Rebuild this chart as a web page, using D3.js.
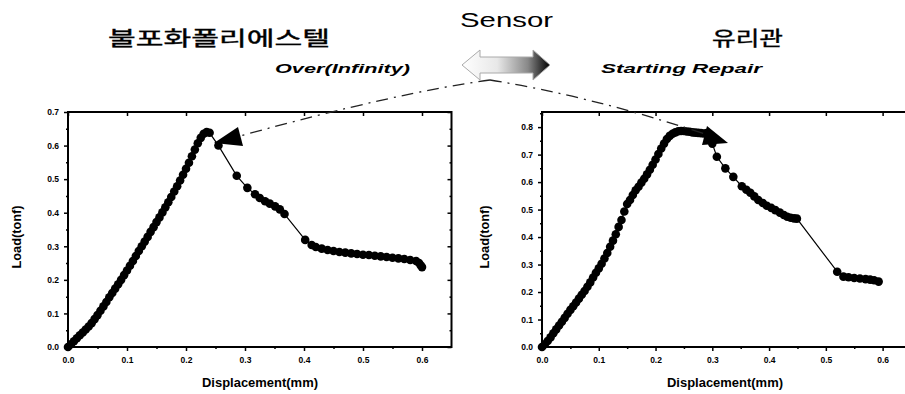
<!DOCTYPE html>
<html>
<head>
<meta charset="utf-8">
<script src="https://cdn.jsdelivr.net/npm/d3@7"></script>
<style>
  body { margin: 0; background: #fff; }
  svg { display: block; }
  .tick text { font-family: "Liberation Sans", Arial, sans-serif; font-weight: bold; font-size: 8.5px; }
</style>
</head>
<body>
<div id="chart"></div>
<script>
// left panel: 불포화폴리에스텔
const leftX = [0.000, 0.005, 0.010, 0.015, 0.020, 0.025, 0.030, 0.035, 0.040, 0.045, 0.050, 0.055, 0.060, 0.065,
  0.070, 0.075, 0.080, 0.085, 0.090, 0.095, 0.100, 0.105, 0.110, 0.115, 0.120, 0.125, 0.130, 0.135, 0.140,
  0.145, 0.150, 0.155, 0.160, 0.165, 0.170, 0.175, 0.180, 0.185, 0.190, 0.195, 0.200, 0.205, 0.210, 0.215,
  0.220, 0.225, 0.230, 0.235, 0.240,
  0.255, 0.286, 0.304, 0.317, 0.325, 0.334, 0.342, 0.351, 0.359, 0.367, 0.402, 0.413,
  0.420, 0.430, 0.440, 0.450, 0.460, 0.470, 0.480, 0.490, 0.500, 0.510, 0.520, 0.530, 0.540, 0.550, 0.560,
  0.570, 0.580, 0.590, 0.595, 0.598, 0.600];
const leftY = [0.000, 0.008, 0.017, 0.026, 0.035, 0.043, 0.052, 0.061, 0.071, 0.083, 0.095, 0.108, 0.121, 0.134,
  0.148, 0.161, 0.174, 0.187, 0.200, 0.214, 0.228, 0.242, 0.256, 0.271, 0.286, 0.300, 0.314, 0.328, 0.343,
  0.357, 0.372, 0.386, 0.401, 0.416, 0.431, 0.447, 0.463, 0.479, 0.496, 0.513, 0.531, 0.549, 0.568, 0.588,
  0.607, 0.623, 0.635, 0.640, 0.638,
  0.600, 0.510, 0.474, 0.455, 0.444, 0.434, 0.427, 0.419, 0.410, 0.396, 0.319, 0.304,
  0.298, 0.293, 0.289, 0.286, 0.283, 0.281, 0.279, 0.277, 0.275, 0.274, 0.272, 0.270, 0.268, 0.266, 0.264,
  0.262, 0.259, 0.256, 0.250, 0.243, 0.238];

// right panel: 유리관
const rightX = [0.000, 0.005, 0.010, 0.015, 0.020, 0.025, 0.030, 0.035, 0.040, 0.045, 0.050, 0.055, 0.060, 0.065,
  0.070, 0.075, 0.080, 0.085, 0.090, 0.095, 0.100, 0.105, 0.110, 0.115, 0.120, 0.125, 0.130, 0.135, 0.140,
  0.145, 0.150, 0.155, 0.160, 0.165, 0.170, 0.175, 0.180, 0.185, 0.190, 0.195, 0.200, 0.205, 0.210, 0.215,
  0.220, 0.225, 0.230, 0.235, 0.240, 0.245, 0.250, 0.255, 0.260, 0.265, 0.270, 0.275, 0.280, 0.285, 0.290,
  0.295, 0.300,
  0.308, 0.323, 0.337, 0.352, 0.360, 0.367, 0.374, 0.381, 0.389, 0.396, 0.404, 0.411, 0.419, 0.426, 0.432,
  0.438, 0.444, 0.449,
  0.520, 0.531, 0.540, 0.550, 0.560, 0.570, 0.578, 0.585, 0.593];
const rightY = [0.000, 0.010, 0.022, 0.035, 0.050, 0.064, 0.078, 0.092, 0.106, 0.121, 0.135, 0.148, 0.162, 0.176,
  0.190, 0.204, 0.219, 0.235, 0.253, 0.270, 0.286, 0.303, 0.322, 0.342, 0.365, 0.387, 0.410, 0.437, 0.462,
  0.493, 0.520, 0.535, 0.553, 0.570, 0.583, 0.598, 0.612, 0.628, 0.645, 0.663, 0.682, 0.702, 0.722, 0.740,
  0.757, 0.768, 0.776, 0.781, 0.785, 0.786, 0.786, 0.784, 0.783, 0.781, 0.780, 0.779, 0.778, 0.777, 0.778,
  0.770, 0.740,
  0.692, 0.650, 0.619, 0.585, 0.572, 0.561, 0.548, 0.535, 0.524, 0.514, 0.506, 0.498, 0.489, 0.480, 0.474,
  0.470, 0.468, 0.467,
  0.274, 0.256, 0.254, 0.251, 0.249, 0.247, 0.245, 0.243, 0.238];

const xTicks = [0, 0.1, 0.2, 0.3, 0.4, 0.5, 0.6];
const leftYTicks = [0, 0.1, 0.2, 0.3, 0.4, 0.5, 0.6, 0.7];
const rightYTicks = [0, 0.1, 0.2, 0.3, 0.4, 0.5, 0.6, 0.7, 0.8];

const width = 905, height = 394;

const svg = d3.select('#chart').append('svg')
  .attr('width', width)
  .attr('height', height);

const defs = svg.append('defs');
const grad = defs.append('linearGradient').attr('id', 'arrowGrad')
  .attr('x1', '0%').attr('x2', '100%').attr('y1', '0%').attr('y2', '0%');
grad.append('stop').attr('offset', '0%').attr('stop-color', '#fff');
grad.append('stop').attr('offset', '40%').attr('stop-color', '#e8e8e8');
grad.append('stop').attr('offset', '75%').attr('stop-color', '#888');
grad.append('stop').attr('offset', '100%').attr('stop-color', '#000');

function drawPanel(cfg) {
  const x = d3.scaleLinear().domain([0, 0.65]).range(cfg.xRange);
  const y = d3.scaleLinear().domain([0, cfg.yMax]).range([347, 112]);
  const g = svg.append('g');

  const minorX = d3.range(0.05, 0.65, 0.1);
  const minorY = d3.range(0.05, cfg.yMax, 0.1);

  // frame
  g.append('rect')
    .attr('x', x(0)).attr('y', y(cfg.yMax))
    .attr('width', x(0.65) - x(0)).attr('height', y(0) - y(cfg.yMax))
    .attr('fill', 'none').attr('stroke', '#000').attr('stroke-width', 2);

  const fmt = d3.format('.1f');

  // bottom axis
  g.append('g').attr('transform', `translate(0,${y(0)})`)
    .call(d3.axisBottom(x).tickValues(xTicks).tickSize(4).tickPadding(6).tickFormat(fmt))
    .call(s => s.select('.domain').remove());
  g.append('g').attr('transform', `translate(0,${y(0)})`)
    .call(d3.axisBottom(x).tickValues(minorX).tickSize(2).tickFormat(''))
    .call(s => s.select('.domain').remove());
  // top axis (inward)
  g.append('g').attr('transform', `translate(0,${y(cfg.yMax)})`)
    .call(d3.axisBottom(x).tickValues(xTicks).tickSize(4).tickFormat(''))
    .call(s => s.select('.domain').remove());
  // left axis
  g.append('g').attr('transform', `translate(${x(0)},0)`)
    .call(d3.axisLeft(y).tickValues(cfg.yTicks).tickSize(4).tickPadding(5).tickFormat(fmt))
    .call(s => s.select('.domain').remove());
  g.append('g').attr('transform', `translate(${x(0)},0)`)
    .call(d3.axisLeft(y).tickValues(minorY).tickSize(2).tickFormat(''))
    .call(s => s.select('.domain').remove());
  // right axis (inward)
  g.append('g').attr('transform', `translate(${x(0.65)},0)`)
    .call(d3.axisLeft(y).tickValues(cfg.yTicks).tickSize(4).tickFormat(''))
    .call(s => s.select('.domain').remove());
  g.append('g').attr('transform', `translate(${x(0.65)},0)`)
    .call(d3.axisLeft(y).tickValues(minorY).tickSize(2).tickFormat(''))
    .call(s => s.select('.domain').remove());

  g.selectAll('.tick line').attr('stroke-width', 1.5);

  // axis titles
  g.append('text')
    .attr('x', cfg.xTitleX).attr('y', 387)
    .attr('text-anchor', 'middle')
    .attr('font-family', 'Liberation Sans, Arial, sans-serif')
    .attr('font-size', 12.5).attr('font-weight', 'bold')
    .attr('textLength', 116).attr('lengthAdjust', 'spacingAndGlyphs')
    .text('Displacement(mm)');
  g.append('text')
    .attr('transform', `translate(${cfg.yTitleX},237) rotate(-90)`)
    .attr('text-anchor', 'middle')
    .attr('font-family', 'Liberation Sans, Arial, sans-serif')
    .attr('font-size', 12.5).attr('font-weight', 'bold')
    .attr('textLength', 63).attr('lengthAdjust', 'spacingAndGlyphs')
    .text('Load(tonf)');

  const pts = cfg.xs.map((d, i) => [d, cfg.ys[i]]);

  g.append('path')
    .datum(pts)
    .attr('fill', 'none').attr('stroke', '#000').attr('stroke-width', 1.2)
    .attr('d', d3.line().x(d => x(d[0])).y(d => y(d[1])));

  g.selectAll('circle')
    .data(pts)
    .enter()
    .append('circle')
    .attr('cx', d => x(d[0]))
    .attr('cy', d => y(d[1]))
    .attr('r', 4.3)
    .attr('fill', '#000');
}

drawPanel({xs: leftX, ys: leftY, yMax: 0.7, yTicks: leftYTicks, xRange: [68, 451.5], xTitleX: 260, yTitleX: 21});
drawPanel({xs: rightX, ys: rightY, yMax: 0.855, yTicks: rightYTicks, xRange: [542, 911], xTitleX: 725, yTitleX: 489});

// titles
svg.append('text')
  .attr('x', 460).attr('y', 27)
  .attr('font-family', 'Liberation Sans, Arial, sans-serif')
  .attr('font-size', 21)
  .attr('textLength', 93).attr('lengthAdjust', 'spacingAndGlyphs')
  .text('Sensor');
svg.append('text')
  .attr('x', 108).attr('y', 46)
  .attr('font-family', 'Noto Sans CJK KR, sans-serif')
  .attr('font-size', 20).attr('stroke', '#000').attr('stroke-width', 0.4)
  .attr('textLength', 222).attr('lengthAdjust', 'spacingAndGlyphs')
  .text('불포화폴리에스텔');
svg.append('text')
  .attr('x', 712).attr('y', 46)
  .attr('font-family', 'Noto Sans CJK KR, sans-serif')
  .attr('font-size', 20).attr('stroke', '#000').attr('stroke-width', 0.4)
  .attr('textLength', 71).attr('lengthAdjust', 'spacingAndGlyphs')
  .text('유리관');
svg.append('text')
  .attr('x', 275).attr('y', 73)
  .attr('font-family', 'Liberation Sans, Arial, sans-serif')
  .attr('font-size', 13).attr('font-weight', 'bold').attr('font-style', 'italic')
  .attr('textLength', 135).attr('lengthAdjust', 'spacingAndGlyphs')
  .text('Over(Infinity)');
svg.append('text')
  .attr('x', 601).attr('y', 73)
  .attr('font-family', 'Liberation Sans, Arial, sans-serif')
  .attr('font-size', 13).attr('font-weight', 'bold').attr('font-style', 'italic')
  .attr('textLength', 161).attr('lengthAdjust', 'spacingAndGlyphs')
  .text('Starting Repair');

// double arrow
svg.append('path')
  .attr('d', 'M462,65 L480,50 L480,57 L533,57 L533,50 L550,65 L533,80 L533,73 L480,73 L480,80 Z')
  .attr('fill', 'url(#arrowGrad)')
  .attr('stroke', '#aaa').attr('stroke-width', 1);

// dash-dot pointers
svg.append('path')
  .attr('d', 'M490,80 Q400,92 240,136')
  .attr('fill', 'none').attr('stroke', '#222').attr('stroke-width', 1.3)
  .attr('stroke-dasharray', '12,6,2,6');
svg.append('path')
  .attr('d', 'M490,80 Q590,96 705,134')
  .attr('fill', 'none').attr('stroke', '#222').attr('stroke-width', 1.3)
  .attr('stroke-dasharray', '12,6,2,6');
svg.append('path')
  .attr('d', 'M214,143 L243,146 L238,127 Z')
  .attr('fill', '#000');
svg.append('path')
  .attr('d', 'M728,143 L702,145 L707,126 Z')
  .attr('fill', '#000');
</script>
</body>
</html>
